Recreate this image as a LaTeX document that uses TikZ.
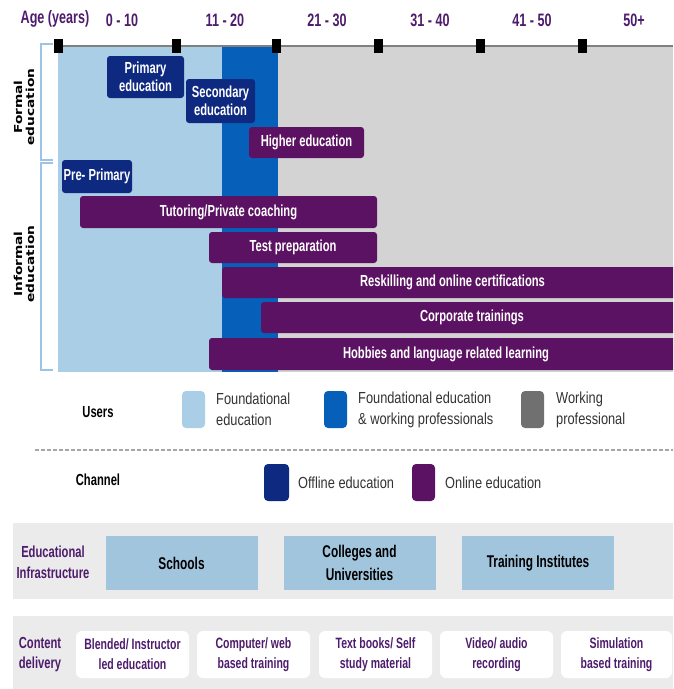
\documentclass[tikz,border=0pt]{standalone}
\usepackage{fontspec}
\setmainfont{Liberation Sans}[FakeStretch=0.8]
\newfontfamily\condfont{Liberation Sans}[FakeStretch=0.7]
\newfontfamily\widefont{DejaVu Sans}[FakeStretch=1.25]

\definecolor{labelpurple}{RGB}{78,28,108}
\definecolor{navy}{RGB}{14,42,128}
\definecolor{plum}{RGB}{92,18,98}
\definecolor{paleblue}{RGB}{170,206,230}
\definecolor{midblue}{RGB}{6,96,186}
\definecolor{bggrey}{RGB}{211,211,211}
\definecolor{keygrey}{RGB}{112,112,112}
\definecolor{infrablue}{RGB}{162,197,222}
\definecolor{bandgrey}{RGB}{235,235,235}
\definecolor{bracketblue}{RGB}{157,195,230}

\begin{document}
\begin{tikzpicture}[
    x=1pt, y=-1pt,
    bar/.style={rounded corners=3pt, text=white, align=center, inner sep=0pt,
      font=\condfont\bfseries\fontsize{16}{17.5}\selectfont},
    offline/.style={bar, fill=navy},
    online/.style={bar, fill=plum},
    agelabel/.style={text=labelpurple, font=\condfont\bfseries\fontsize{18}{20}\selectfont},
    sidelabel/.style={rotate=90, align=center, font=\widefont\bfseries\fontsize{11}{12}\selectfont},
    rowhead/.style={align=center, font=\condfont\bfseries\fontsize{16}{20}\selectfont},
    swatch/.style={rounded corners=4pt, minimum width=23pt, minimum height=37pt, inner sep=0pt},
    key/.style={anchor=west, align=left, inner sep=0pt, text=black!80,
      font=\fontsize{16}{21}\selectfont},
    infra/.style={fill=infrablue, minimum width=152pt, minimum height=54pt, align=center,
      font=\condfont\bfseries\fontsize{17}{23}\selectfont},
    medium/.style={fill=white, rounded corners=6pt, minimum width=113pt, minimum height=47pt,
      align=center, text=labelpurple, font=\condfont\bfseries\fontsize{15}{20}\selectfont},
  ]
  \clip (0,0) rectangle (673,689);

  % User groups behind the timeline
  \fill[paleblue] (58,46) rectangle (222,372);
  \fill[midblue] (222,46) rectangle (278,372);
  \fill[bggrey] (278,46) rectangle (673,372);

  % Age axis
  \draw[gray, line width=1.2pt] (58,46) -- (673,46);
  \fill (53.5,39) rectangle (62.5,53);
  \fill (171.5,39) rectangle (180.5,53);
  \fill (271.5,39) rectangle (280.5,53);
  \fill (373.5,39) rectangle (382.5,53);
  \fill (475.5,39) rectangle (484.5,53);
  \fill (577.5,39) rectangle (586.5,53);

  \node[agelabel] (age) at (55,19) {Age (years)};
  \node[agelabel] (a1) at (122,20) {0 - 10};
  \node[agelabel] (a2) at (225,20) {11 - 20};
  \node[agelabel] (a3) at (327,20) {21 - 30};
  \node[agelabel] (a4) at (430,20) {31 - 40};
  \node[agelabel] (a5) at (532,20) {41 - 50};
  \node[agelabel] (a6) at (634,20) {50+};

  % Formal / informal brackets
  \draw[bracketblue, line width=1.5pt] (53,44) -- (41,44) -- (41,160) -- (53,160);
  \draw[bracketblue, line width=1.5pt] (53,163) -- (41,163) -- (41,370) -- (53,370);
  \node[sidelabel] (formal) at (24,107) {Formal\\education};
  \node[sidelabel] (informal) at (24,264) {Informal\\education};

  % Education stages
  \node[offline, minimum width=77pt, minimum height=42pt] (primary) at (145.5,77) {Primary\\education};
  \node[offline, minimum width=69pt, minimum height=44pt] (secondary) at (220.5,101) {Secondary\\education};
  \node[online, minimum width=115pt, minimum height=31pt] (higher) at (306.5,142.5) {Higher education};
  \node[offline, minimum width=70pt, minimum height=33pt] (preprimary) at (97,176.5) {Pre- Primary};
  \node[online, minimum width=297pt, minimum height=32pt] (tutoring) at (228.5,212) {Tutoring/Private coaching};
  \node[online, minimum width=168pt, minimum height=31pt] (testprep) at (293,247.5) {Test preparation};
  \node[online, minimum width=461pt, minimum height=31pt] (reskill) at (452.5,282.5) {Reskilling and online certifications};
  \node[online, minimum width=422pt, minimum height=31pt] (corporate) at (472,317.5) {Corporate trainings};
  \node[online, minimum width=474pt, minimum height=32pt] (hobbies) at (446,354) {Hobbies and language related learning};

  % Users legend
  \node[rowhead] (users) at (98,412) {Users};
  \node[swatch, fill=paleblue] (kfound) at (193.5,409.5) {};
  \node[key] (tfound) at (216,409.5) {Foundational\\education};
  \node[swatch, fill=midblue] (kboth) at (335.5,409.5) {};
  \node[key] (tboth) at (358,409.5) {Foundational education\\\& working professionals};
  \node[swatch, fill=keygrey] (kwork) at (532.5,409.5) {};
  \node[key] (twork) at (556,409.5) {Working\\professional};

  \draw[gray!70, line width=1.5pt, dash pattern=on 4pt off 2pt] (35,450) -- (673,450);

  % Channel legend
  \node[rowhead] (channel) at (98,480) {Channel};
  \node[swatch, fill=navy, minimum width=25pt] (koff) at (276.5,482.5) {};
  \node[key] (toff) at (298,483) {Offline education};
  \node[swatch, fill=plum] (kon) at (423.5,482.5) {};
  \node[key] (ton) at (445,483) {Online education};

  % Educational infrastructure
  \fill[bandgrey] (13,523) rectangle (673,599);
  \node[rowhead, text=labelpurple, font=\condfont\bfseries\fontsize{16}{21}\selectfont] (infrahead) at (53,562) {Educational\\Infrastructure};
  \node[infra] (schools) at (181.5,563) {Schools};
  \node[infra] (colleges) at (359.5,563) {Colleges and\\Universities};
  \node[infra] (institutes) at (538,563) {Training Institutes};

  % Content delivery
  \fill[bandgrey] (13,616) rectangle (673,689);
  \node[rowhead, text=labelpurple] (contenthead) at (40,655) {Content\\delivery};
  \node[medium] (blended) at (132.5,654.5) {Blended/ Instructor\\led education};
  \node[medium] (computer) at (253.5,654.5) {Computer/ web\\based training};
  \node[medium] (textbooks) at (375.5,654.5) {Text books/ Self\\study material};
  \node[medium] (video) at (496.5,654.5) {Video/ audio\\recording};
  \node[medium, minimum width=111pt] (simulation) at (616.5,654.5) {Simulation\\based training};
\end{tikzpicture}
\end{document}
